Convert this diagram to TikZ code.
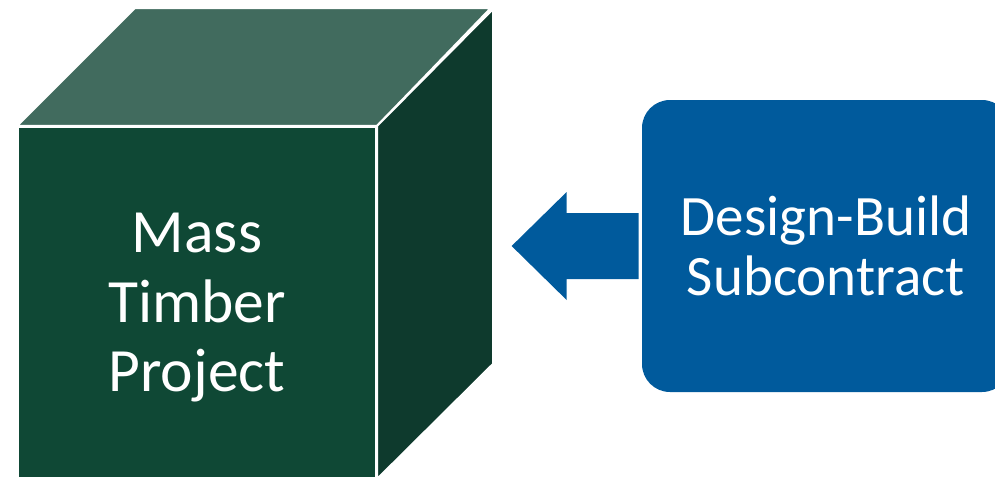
\documentclass[tikz,border=0pt]{standalone}
\usepackage{fontspec}
\setmainfont{Carlito}
\usepackage{xcolor}
\definecolor{cubetop}{HTML}{416B5E}
\definecolor{cubefront}{HTML}{0F4835}
\definecolor{cubeside}{HTML}{0E3A2D}
\definecolor{dbblue}{HTML}{005A9C}

\begin{document}
\begin{tikzpicture}[
  x=0.2mm, y=-0.2mm,
  face/.style={
    fill=#1, draw=white, line width=1.2pt, line join=miter
  },
  front/.style={
    face=cubefront, minimum width=71.6mm, minimum height=70.2mm, inner sep=0pt,
    text=white, align=center, text depth=0pt, font=\fontsize{35}{39.5}\selectfont
  },
  contract/.style={
    fill=dbblue, rounded corners=5.6mm, minimum width=73.6mm, minimum height=58.4mm,
    text=white, align=center, font=\fontsize{32.5}{34}\selectfont
  },
  blockarrow/.style={
    fill=dbblue
  }
]

\useasboundingbox (0,0) rectangle (995,478);

% Cube (front face holds the label)
\node[front] (mtp) at (197,302.5) {Mass\\Timber\\Project};
\draw[face=cubetop] (mtp.north west) -- ++(118,-118) -- ++(356,0) -- (mtp.north east) -- cycle;
\draw[face=cubeside] (mtp.north east) -- ++(116,-117) -- ++(0,355) -- (mtp.south east) -- cycle;

% Subcontract box
\node[contract] (dbs) at (826,246) {Design-Build\\Subcontract};

% Block arrow - from box towards cube
\fill[blockarrow] ([xshift=-0.6mm]dbs.west) -- ++(0,-33) -- ++(-72,0) -- ++(0,-21)
  -- ++(-55,54) -- ++(55,54) -- ++(0,-21) -- ++(72,0) -- cycle;

\end{tikzpicture}
\end{document}
